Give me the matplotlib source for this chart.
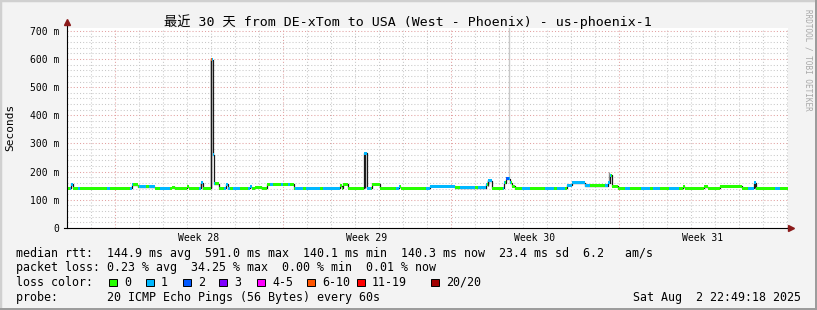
import matplotlib
matplotlib.use("Agg")
import matplotlib.pyplot as plt
from matplotlib.patches import Rectangle
import matplotlib.transforms as mtransforms

# ---------------- data ----------------
title = "最近 30 天 from DE-xTom to USA (West - Phoenix) - us-phoenix-1"

# median rtt (ms) as a step series: day offset of each change, value after it
median_days = [0.0, 0.167, 0.25, 2.71, 2.96, 3.67, 4.375, 4.5, 5.0, 5.08, 5.58, 5.67,
               6.0, 6.08, 6.125, 6.33, 6.625, 6.71, 7.625, 7.71, 7.83, 8.125, 8.33,
               9.46, 11.375, 11.46, 11.5, 11.71, 12.375, 12.5, 12.71, 13.04, 13.83,
               13.92, 15.125, 16.17, 17.46, 17.54, 17.71, 18.21, 18.29, 18.46, 18.54,
               18.67, 20.83, 21.04, 21.58, 22.54, 22.625, 22.71, 22.96, 25.67, 25.75,
               26.54, 26.71, 27.21, 28.125, 28.625, 28.71]
median_ms = [141, 156, 141, 153, 147, 141, 145, 141, 146, 141, 160, 141,
             597, 260, 157, 141, 155, 141, 147, 141, 144, 141, 155,
             141, 150, 141, 155, 141, 266, 141, 155, 141, 147,
             141, 149, 143, 155, 168, 141, 160, 174, 160, 148,
             141, 152, 160, 150, 160, 188, 149, 141, 147, 141,
             147, 141, 148, 141, 160, 141]
end_day = 30.04

# periods with 1/20 packet loss (blue)
loss1_ranges = [(0.125, 0.25), (0.46, 0.54), (1.67, 1.79), (2.62, 2.75), (3.0, 3.3),
                (3.4, 3.67), (3.875, 4.29), (5.5, 5.67), (6.05, 6.17), (6.54, 6.79),
                (6.92, 7.21), (7.54, 7.71), (8.46, 8.6), (8.9, 9.0), (9.2, 9.3),
                (9.5, 9.85), (9.95, 10.55), (10.65, 11.375), (12.375, 12.67),
                (13.7, 13.88), (14.96, 16.17), (16.37, 17.0), (17.12, 17.5),
                (17.54, 17.71), (18.17, 18.25), (18.35, 18.5), (18.96, 19.29),
                (19.9, 20.3), (20.4, 20.75), (20.83, 21.8), (22.42, 22.67),
                (23.25, 23.46), (23.9, 24.3), (24.4, 24.7), (25.1, 25.5),
                (28.375, 28.71), (29.5, 29.7)]
loss2_ranges = [(18.3, 18.4)]
loss6_ranges = [(6.0, 6.05)]

# smoke (spread of the 20 pings)
smoke_days = [5.6, 6.02, 12.42, 17.55, 18.42, 22.6, 28.65]
smoke_lo = [141, 141, 141, 150, 175, 160, 141]
smoke_hi = [161, 605, 270, 172, 712, 200, 160]
smoke_shade = ['#202020', '#202020', '#202020', '#303030', '#c8c8c8', '#909090', '#202020']

y_ticks = [0, 100, 200, 300, 400, 500, 600, 700]
y_tick_labels = ['0', '100 m', '200 m', '300 m', '400 m', '500 m', '600 m', '700 m']
week_labels = ['Week 28', 'Week 29', 'Week 30', 'Week 31']
week_pos = [5.5, 12.5, 19.5, 26.5]
week_lines = [2, 9, 16, 23]

loss_labels = ['0', '1', '2', '3', '4-5', '6-10', '11-19', '20/20']
loss_colors = ['#26ff00', '#00b8ff', '#0059ff', '#7e00ff', '#ff00ff', '#ff5500', '#ff0000', '#a10000']

row_median = "median rtt:  144.9 ms avg  591.0 ms max  140.1 ms min  140.3 ms now  23.4 ms sd  6.2   am/s"
row_loss = "packet loss: 0.23 % avg  34.25 % max  0.00 % min  0.01 % now"
row_probe = "probe:       20 ICMP Echo Pings (56 Bytes) every 60s"
date_text = "Sat Aug  2 22:49:18 2025"

# ---------------- layout ----------------
W, H = 817, 310
def fx(x): return x / W
def fy(y): return 1 - y / H

MONO = ['DejaVu Sans Mono', 'Noto Sans CJK SC']
fig = plt.figure(figsize=(W / 100, H / 100), dpi=100)
fig.patch.set_facecolor('#f3f3f3')

L, R, T, B = 67, 788, 28, 228
ax = fig.add_axes([fx(L), fy(B), (R - L) / W, (B - T) / H])
ax.set_facecolor('white')
ax.set_xlim(0, end_day)
ax.set_ylim(0, 710)
for s in ax.spines.values():
    s.set_visible(False)

# grid
ax.set_yticks(y_ticks)
ax.set_yticklabels(y_tick_labels, family=MONO, fontsize=7)
ax.set_yticks(range(0, 711, 20), minor=True)
ax.set_xticks(week_lines)
ax.set_xticklabels([])
ax.set_xticks(range(0, 31), minor=True)
ax.tick_params(which='both', length=0, pad=5.8)
ax.grid(which='minor', color='#c8c8c8', ls=(0, (1, 2)), lw=0.75)
ax.grid(which='major', color='#e2a0a0', ls=(0, (1, 2)), lw=0.75)
ax.set_axisbelow(True)

# smoke
ax.vlines(smoke_days, smoke_lo, smoke_hi, colors=smoke_shade, lw=1.0, zorder=2)

# median line (dark) then loss-colored band
xs_all = median_days + [end_day]
ys_all = median_ms + [median_ms[-1]]
ax.step(xs_all, ys_all, where='post', color='#1a1a1a', lw=0.9, zorder=3)

def value_at(t):
    v = median_ms[0]
    for d, m in zip(median_days, median_ms):
        if d <= t:
            v = m
    return v

def segment(a, b):
    xs = [a] + [d for d in median_days if a < d < b] + [b]
    ys = [value_at(x) for x in xs[:-1]] + [value_at(xs[-2])]
    return xs, ys

band = 5.3
def draw_band(a, b, color):
    xs, ys = segment(a, b)
    ax.fill_between(xs, [y - band for y in ys], [y + band for y in ys],
                    step='post', color=color, lw=0, zorder=4)

draw_band(0.0, end_day, loss_colors[0])
for a, b in loss1_ranges:
    draw_band(a, b, loss_colors[1])
for a, b in loss2_ranges:
    draw_band(a, b, loss_colors[2])
for a, b in loss6_ranges:
    draw_band(a, b, loss_colors[5])

# axes with arrows
ax.plot([0, 0], [0, 728], color='black', lw=0.8, clip_on=False, zorder=6)
ax.plot([0], [731], marker='^', color='#8b1a1a', ms=4.5, clip_on=False, zorder=6)
ax.plot([-0.12, 30.1], [0, 0], color='black', lw=0.8, clip_on=False, zorder=6)
ax.plot([30.18], [0], marker='>', color='#8b1a1a', ms=4.5, clip_on=False, zorder=6)

trans = mtransforms.blended_transform_factory(ax.transData, ax.transAxes)
for lab, p in zip(week_labels, week_pos):
    ax.text(p, -0.05, lab, transform=trans, ha='center', va='center',
            fontsize=7, family=MONO)

# texts
fig.text(fx(408), fy(22), title, ha='center', va='center', fontsize=9.5, family=MONO)
fig.text(fx(10), fy(127), 'Seconds', rotation=90, ha='center', va='center',
         fontsize=8, family=MONO)
fig.text(fx(808), fy(60), 'RRDTOOL / TOBI OETIKER', rotation=270, ha='center',
         va='center', fontsize=5.5, family=MONO, color='#a8a8a8')

fs = 8.4
fig.text(fx(16), fy(254), row_median, ha='left', va='center', fontsize=fs, family=MONO)
fig.text(fx(16), fy(268), row_loss, ha='left', va='center', fontsize=fs, family=MONO)
fig.text(fx(16), fy(282), 'loss color:', ha='left', va='center', fontsize=fs, family=MONO)
fig.text(fx(16), fy(297), row_probe, ha='left', va='center', fontsize=fs, family=MONO)
fig.text(fx(801), fy(297), date_text, ha='right', va='center', fontsize=fs, family=MONO)

box_x = [109, 146, 183, 219, 257, 307, 357, 431]
for bx, lab, col in zip(box_x, loss_labels, loss_colors):
    fig.patches.append(Rectangle((fx(bx), fy(286)), 7.5 / W, 7.5 / H, transform=fig.transFigure,
                                 facecolor=col, edgecolor='black', lw=0.7))
    fig.text(fx(bx + 15), fy(282), lab, ha='left', va='center', fontsize=fs, family=MONO)

# frame
fig.patches.append(Rectangle((0, 0), 1, 1, transform=fig.transFigure, fill=False,
                             edgecolor='#d0d0d0', lw=2.5))
fig.patches.append(Rectangle((0, 0), 1, 2.5 / H, transform=fig.transFigure,
                             facecolor='#9c9c9c', lw=0))
fig.patches.append(Rectangle((1 - 2.5 / W, 0), 2.5 / W, 1, transform=fig.transFigure,
                             facecolor='#9c9c9c', lw=0))

fig.savefig('out.png', dpi=100, facecolor=fig.get_facecolor())
